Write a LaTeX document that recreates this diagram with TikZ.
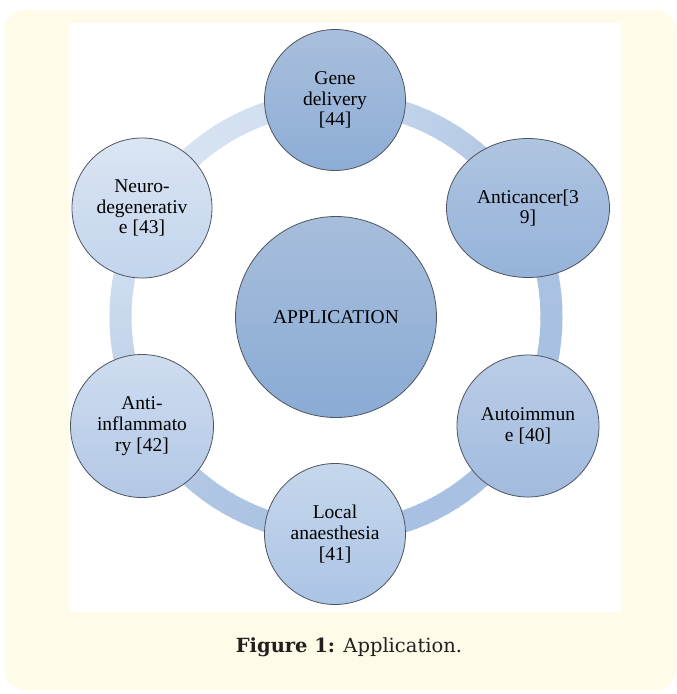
\documentclass[tikz,border=0pt]{standalone}
\usepackage{fontspec}
\setmainfont{Liberation Serif}
\newfontfamily\capfont{DejaVu Serif}
\usetikzlibrary{shapes.geometric}
\definecolor{cream}{HTML}{FEFBE9}
\definecolor{ringlight}{HTML}{D6E2F2}
\definecolor{ringdark}{HTML}{A8C0E1}
\definecolor{edgec}{HTML}{4F5560}
\definecolor{captc}{HTML}{231F20}
\definecolor{cenT}{HTML}{A7BEDB}\definecolor{cenB}{HTML}{8AABD5}
\definecolor{genT}{HTML}{A9BFDC}\definecolor{genB}{HTML}{8DADD6}
\definecolor{ancT}{HTML}{AFC4E0}\definecolor{ancB}{HTML}{95B3DA}
\definecolor{autT}{HTML}{BACDE7}\definecolor{autB}{HTML}{A1BBDE}
\definecolor{locT}{HTML}{C6D7EC}\definecolor{locB}{HTML}{ABC4E5}
\definecolor{infT}{HTML}{CFDCEF}\definecolor{infB}{HTML}{B2C8E6}
\definecolor{neuT}{HTML}{DBE5F3}\definecolor{neuB}{HTML}{C2D4EC}
\tikzset{
  bubble/.style={circle, draw=edgec, line width=0.8pt, minimum size=#1, inner sep=0pt,
    align=center, font=\fontsize{19.5}{20.7}\selectfont, text=black},
  oval/.style={ellipse, draw=edgec, line width=0.8pt, minimum width=163pt, minimum height=139pt,
    inner sep=0pt, align=center, font=\fontsize{19.5}{20.7}\selectfont, text=black},
  ringseg/.style={line width=22pt},
  grad/.style 2 args={top color=#1, bottom color=#2}
}
\begin{document}
\begin{tikzpicture}[x=1pt,y=-1pt]
\useasboundingbox (0,0) rectangle (677,694);
\fill[cream, rounded corners=20pt] (5,10) rectangle (676,690);
\fill[white] (69,23) rectangle (621,612);
% ring
\coordinate (rc) at (336,317);
\foreach \a in {0,3,...,357}{
  \pgfmathsetmacro\t{100*((1+cos(\a-225))/2)^2}
  \colorlet{ringc}{ringlight!\t!ringdark}
  \draw[ringseg, ringc] (rc) ++(\a:215.5) arc[start angle=\a, end angle=\a+3.6, radius=215.5];
}
% nodes
\node[bubble=201pt, grad={cenT}{cenB}] (app) at (336,317) {APPLICATION};
\node[bubble=141pt, grad={genT}{genB}] (gene) at (335,100) {Gene\\delivery\\{[44]}};
\node[oval, grad={ancT}{ancB}] (anti) at (528,208) {Anticancer[3\\9]};
\node[bubble=142pt, grad={autT}{autB}] (auto) at (528,426) {Autoimmun\\e [40]};
\node[bubble=141pt, grad={locT}{locB}] (local) at (335,534) {Local\\anaesthesia\\{[41]}};
\node[bubble=143pt, grad={infT}{infB}] (infl) at (142,426) {Anti-\\inflammato\\ry [42]};
\node[bubble=140pt, grad={neuT}{neuB}] (neuro) at (142,208) {Neuro-\\degenerativ\\e [43]};
% caption
\node[text=captc, font=\capfont\fontsize{19.5}{23}\selectfont] (cap) at (349,647)
  {\textbf{Figure 1:} Application.};
\end{tikzpicture}
\end{document}
